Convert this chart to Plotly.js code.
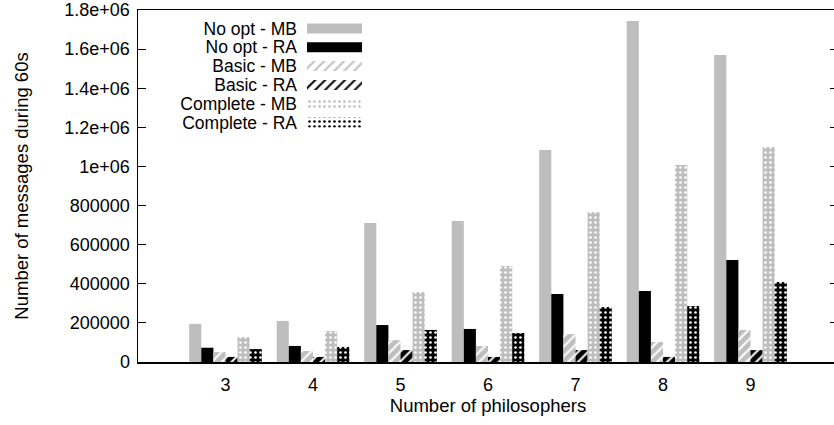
<!DOCTYPE html>
<html>
<head>
<meta charset="utf-8">
<script src="https://cdn.plot.ly/plotly-3.0.1.min.js"></script>
<style>
html, body { margin:0; padding:0; overflow:hidden; background:#fff; }
#chart { width:838px; height:425px; }
</style>
</head>
<body>
<div id="chart"></div>
<script>
const categories = [3, 4, 5, 6, 7, 8, 9];
const seriesNames = ["No opt - MB", "No opt - RA", "Basic - MB", "Basic - RA", "Complete - MB", "Complete - RA"];
const noOptMB     = [195000, 210000, 711000, 721000, 1084000, 1744000, 1570000];
const noOptRA     = [73000, 82000, 189000, 169000, 348000, 363000, 522000];
const basicMB     = [51000, 56000, 112000, 82000, 143000, 102000, 164000];
const basicRA     = [26000, 26000, 61000, 26000, 61000, 26000, 61000];
const completeMB  = [128000, 158000, 358000, 491000, 767000, 1007000, 1099000];
const completeRA  = [66000, 77000, 164000, 148000, 281000, 286000, 409000];
const yTickVals = [0, 200000, 400000, 600000, 800000, 1000000, 1200000, 1400000, 1600000, 1800000];
const yTickText = ["0", "200000", "400000", "600000", "800000", "1e+06", "1.2e+06", "1.4e+06", "1.6e+06", "1.8e+06"];

const GRAY = "#bebebe", BLACK = "#000000";
const seriesValues = [noOptMB, noOptRA, basicMB, basicRA, completeMB, completeRA];
const seriesColors = [GRAY, BLACK, GRAY, BLACK, GRAY, BLACK];
const seriesShapes = ["", "", "/", "/", ".", "."];
const patternSizes = [8, 8, 7, 7, 5, 5];
const patternSolid = [0.3, 0.3, 0.28, 0.28, 0.22, 0.22];

const FONT = "'Liberation Sans', Arial, Helvetica, sans-serif";
const FS = 18.5;
const TFS = 18;
const LFS = 17.5;

const traces = seriesValues.map((vals, i) => ({
  type: "bar",
  name: seriesNames[i],
  x: categories,
  y: vals,
  xaxis: "x", yaxis: "y",
  showlegend: false,
  hoverinfo: "skip",
  marker: {
    color: seriesColors[i],
    line: { width: 0 },
    pattern: { shape: seriesShapes[i], fgcolor: "#ffffff", bgcolor: seriesColors[i], size: patternSizes[i], solidity: patternSolid[i] }
  }
}));

// legend swatches built from the series names/styles
traces.push({
  type: "bar",
  orientation: "h",
  x: seriesNames.map(() => 1),
  y: seriesNames,
  width: 0.53,
  xaxis: "x2", yaxis: "y2",
  showlegend: false,
  hoverinfo: "skip",
  marker: {
    color: seriesColors,
    line: { width: 0 },
    pattern: { shape: seriesShapes, fgcolor: "#ffffff", bgcolor: seriesColors, size: patternSizes, solidity: patternSolid }
  }
});

const layout = {
  width: 838, height: 425,
  margin: { l: 138, r: 0, t: 10, b: 63 },
  paper_bgcolor: "#ffffff", plot_bgcolor: "#ffffff",
  font: { family: FONT, size: FS, color: "#000" },
  barmode: "group",
  bargap: 0.17,
  bargroupgap: 0,
  xaxis: {
    range: [2, 10],
    tickvals: categories,
    ticktext: categories.map(String),
    ticks: "",
    showgrid: false, zeroline: false,
    showline: true, linecolor: "#000", linewidth: 1.5, mirror: true,
    ticklabelstandoff: 6,
    tickfont: { size: TFS },
    title: { text: "Number of philosophers", font: { size: FS }, standoff: 5 }
  },
  yaxis: {
    range: [0, 1800000],
    tickvals: yTickVals,
    ticktext: yTickText,
    ticks: "inside", ticklen: 8, tickwidth: 1, tickcolor: "#000",
    showgrid: false, zeroline: false,
    showline: true, linecolor: "#000", linewidth: 1.5, mirror: "ticks",
    ticklabelstandoff: 3,
    tickfont: { size: TFS },
    title: { text: "Number of messages during 60s", font: { size: FS }, standoff: 31 }
  },
  xaxis2: {
    domain: [0.2414, 0.32], range: [0, 1], anchor: "y2",
    visible: false, fixedrange: true
  },
  yaxis2: {
    domain: [0.6534, 0.9744], anchor: "x2",
    type: "category", autorange: "reversed",
    tickmode: "array", tickvals: seriesNames, ticktext: seriesNames,
    showline: false, showgrid: false, zeroline: false, ticks: "",
    ticklabelstandoff: 9,
    tickfont: { size: LFS }, fixedrange: true
  }
};

Plotly.newPlot("chart", traces, layout, { displayModeBar: false, staticPlot: true });
</script>
</body>
</html>
